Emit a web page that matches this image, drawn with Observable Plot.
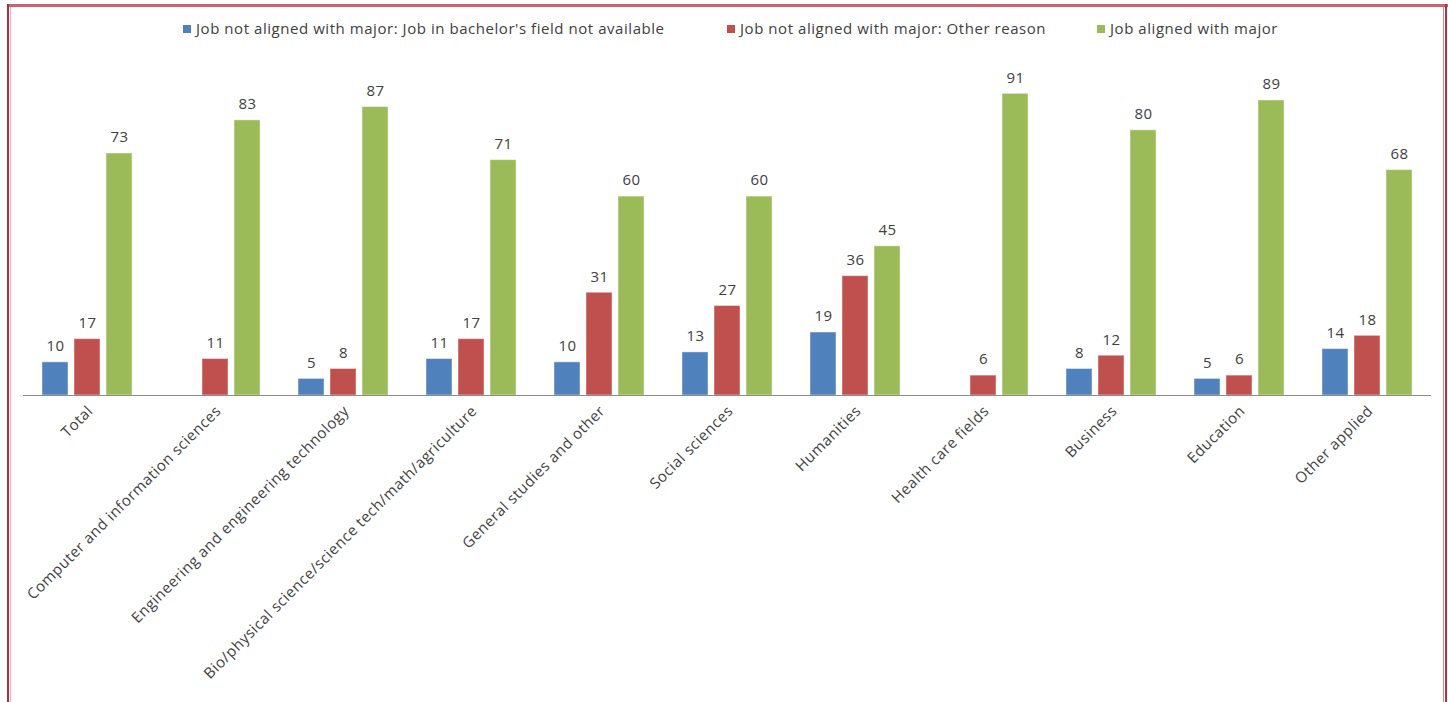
<!DOCTYPE html>
<html>
<head>
<meta charset="utf-8">
<script src="https://cdn.jsdelivr.net/npm/d3@7"></script>
<script src="https://cdn.jsdelivr.net/npm/@observablehq/plot@0.6"></script>
<style>
  html, body { margin: 0; padding: 0; background: #fff; width: 1448px; height: 702px; overflow: hidden; }
  body { position: relative; font-family: "Open Sans", sans-serif; color: #404040; }
  #legend { position: absolute; top: 17px; left: 0; width: 1448px; height: 22px; }
  .item { position: absolute; top: 0; white-space: nowrap; font-size: 15px; letter-spacing: 0.55px; line-height: 22px; }
  .sw { display: inline-block; width: 8px; height: 8px; margin-right: 5px; vertical-align: 1px; }
  #chart { position: absolute; top: 45px; left: 0; }
  #chart svg text { letter-spacing: 0.5px; }
  .bt { position: absolute; left: 7px; top: 4px; width: 1441px; height: 3px; background: #c9646f; }
  .bl { position: absolute; left: 7px; top: 4px; width: 2px; height: 698px; background: #a8303f; }
  .bl2 { position: absolute; left: 10px; top: 7px; width: 1px; height: 695px; background: #e8b5ba; }
  .br { position: absolute; left: 1445px; top: 4px; width: 2px; height: 698px; background: #b8303f; }
  .br2 { position: absolute; left: 1443px; top: 7px; width: 1px; height: 695px; background: #d98a92; }
</style>
</head>
<body>
<div class="bt"></div><div class="bl"></div><div class="bl2"></div><div class="br"></div><div class="br2"></div>
<div id="legend"></div>
<div id="chart"></div>
<script>
const categories = [
  "Total",
  "Computer and information sciences",
  "Engineering and engineering technology",
  "Bio/physical science/science tech/math/agriculture",
  "General studies and other",
  "Social sciences",
  "Humanities",
  "Health care fields",
  "Business",
  "Education",
  "Other applied"
];
const seriesNames = [
  "Job not aligned with major: Job in bachelor's field not available",
  "Job not aligned with major: Other reason",
  "Job aligned with major"
];
const notAvailable = [10, null, 5, 11, 10, 13, 19, null, 8, 5, 14];
const otherReason  = [17, 11, 8, 17, 31, 27, 36, 6, 12, 6, 18];
const aligned      = [73, 83, 87, 71, 60, 60, 45, 91, 80, 89, 68];
const colors = ["#4f81bd", "#c0504d", "#9bbb59"];

const seriesValues = [notAvailable, otherReason, aligned];
const data = [];
categories.forEach((c, i) => {
  seriesNames.forEach((s, j) => {
    const v = seriesValues[j][i];
    if (v != null) data.push({category: c, series: s, value: v});
  });
});

// Legend
const legendLefts = [183, 727, 1097];
const legend = document.getElementById("legend");
seriesNames.forEach((s, j) => {
  const it = document.createElement("div");
  it.className = "item";
  it.style.left = legendLefts[j] + "px";
  it.innerHTML = `<span class="sw" style="background:${colors[j]}"></span>`;
  it.appendChild(document.createTextNode(s));
  legend.appendChild(it);
});

const chart = Plot.plot({
  width: 1448,
  height: 657,
  marginLeft: 23,
  marginRight: 17,
  marginTop: 18.5,
  marginBottom: 307,
  style: {fontFamily: "'Open Sans', sans-serif", fontSize: "15px", color: "#404040", background: "transparent"},
  fx: {domain: categories, paddingInner: 0.297, paddingOuter: 0.1485, label: null},
  x: {domain: seriesNames, paddingInner: 0.1875, paddingOuter: 0, axis: null},
  y: {domain: [0, 100], axis: null},
  color: {domain: seriesNames, range: colors},
  marks: [
    Plot.axisFx({anchor: "bottom", tickRotate: -45, tickSize: 0, tickPadding: 13, dx: 3, label: null, fill: "#404040", fontSize: 15}),
    Plot.barY(data, {fx: "category", x: "series", y: "value", fill: "series", stroke: "#ffffff", strokeOpacity: 0.45, strokeWidth: 1}),
    Plot.ruleY([0], {stroke: "#8c8c8c", strokeWidth: 1.2, insetLeft: -19, insetRight: -19}),
    Plot.text(data, {fx: "category", x: "series", y: "value", text: d => String(d.value), dy: -16, fill: "#404040", fontSize: 15})
  ]
});
document.getElementById("chart").appendChild(chart);
</script>
</body>
</html>
